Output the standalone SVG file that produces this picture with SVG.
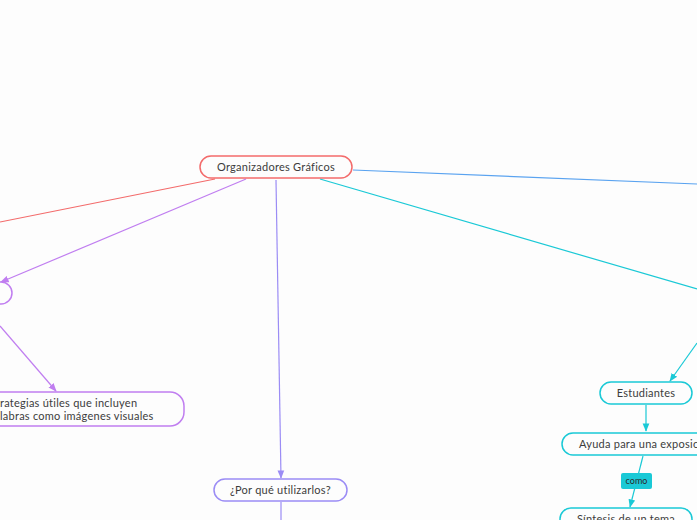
<svg xmlns="http://www.w3.org/2000/svg" width="697" height="520" viewBox="0 0 697 520">
<style>
.t{font-family:Lato,"Open Sans",sans-serif;font-size:11px;letter-spacing:0.25px;fill:#3c3c3c}
.n{fill:#fdfdfd;stroke-width:1.5}
.c{fill:none;stroke-width:1.2}
</style>
<defs>
<marker id="ap" viewBox="0 0 10 10" refX="9" refY="5" markerWidth="7" markerHeight="7" orient="auto"><path d="M0,1 L10,5 L0,9 z" fill="#c07ef0"/></marker>
<marker id="al" viewBox="0 0 10 10" refX="9" refY="5" markerWidth="7" markerHeight="7" orient="auto"><path d="M0,1 L10,5 L0,9 z" fill="#9b8cf5"/></marker>
<marker id="ac" viewBox="0 0 10 10" refX="9" refY="5" markerWidth="7" markerHeight="7" orient="auto"><path d="M0,1 L10,5 L0,9 z" fill="#1ac9d6"/></marker>
</defs>
<rect width="697" height="520" fill="#fdfdfd"/>
<g id="connectors">
<path class="c" d="M215,179 L0,222" stroke="#f36b6b"/>
<path class="c" d="M353,170 L697,184" stroke="#5aa3f0"/>
<path class="c" d="M246,179 L1,282" stroke="#c07ef0" marker-end="url(#ap)"/>
<path class="c" d="M0,326 L56,391" stroke="#c07ef0" marker-end="url(#ap)"/>
<path class="c" d="M276,180 L281,478" stroke="#9b8cf5" marker-end="url(#al)"/>
<path class="c" d="M281,502 L281,520" stroke="#9b8cf5"/>
<path class="c" d="M320,179 L697,289" stroke="#1ac9d6"/>
<path class="c" d="M697,343 L670,381" stroke="#1ac9d6" marker-end="url(#ac)"/>
<path class="c" d="M646,405 L646,431" stroke="#1ac9d6" marker-end="url(#ac)"/>
<path class="c" d="M643,456 L630,507" stroke="#1ac9d6" marker-end="url(#ac)"/>
<g id="label-como">
<rect x="621" y="473" width="31" height="16" rx="2" fill="#1ac9d6"/>
<text x="636.5" y="484" text-anchor="middle" style="font-family:Lato,sans-serif;font-size:9px;fill:#2a2a2a">como</text>
</g>
</g>
<g id="root">
<rect class="n" x="200" y="156" width="152" height="22" rx="11" stroke="#f36b6b"/>
<text class="t" x="276" y="171" text-anchor="middle">Organizadores Gráficos</text>
</g>
<g id="purple-left">
<rect class="n" x="-40" y="282" width="52" height="22" rx="11" stroke="#c07ef0"/>
</g>
<g id="estrategias">
<rect class="n" x="-60" y="392" width="244" height="34" rx="14" stroke="#c07ef0"/>
<text class="t" x="0" y="407">rategias útiles que incluyen</text>
<text class="t" x="0" y="420">labras como imágenes visuales</text>
</g>
<g id="porque">
<rect class="n" x="214" y="479" width="133" height="22" rx="11" stroke="#9b8cf5"/>
<text class="t" x="280.5" y="494" text-anchor="middle">¿Por qué utilizarlos?</text>
</g>
<g id="estudiantes">
<rect class="n" x="600" y="382" width="92" height="22" rx="11" stroke="#1ac9d6"/>
<text class="t" x="646" y="397" text-anchor="middle">Estudiantes</text>
</g>
<g id="ayuda">
<rect class="n" x="562" y="433" width="160" height="22" rx="11" stroke="#1ac9d6"/>
<text class="t" x="579" y="448">Ayuda para una exposición</text>
</g>
<g id="sintesis">
<rect class="n" x="560" y="508" width="132" height="24" rx="11" stroke="#1ac9d6"/>
<text class="t" x="626" y="523" text-anchor="middle">Síntesis de un tema</text>
</g>
</svg>
